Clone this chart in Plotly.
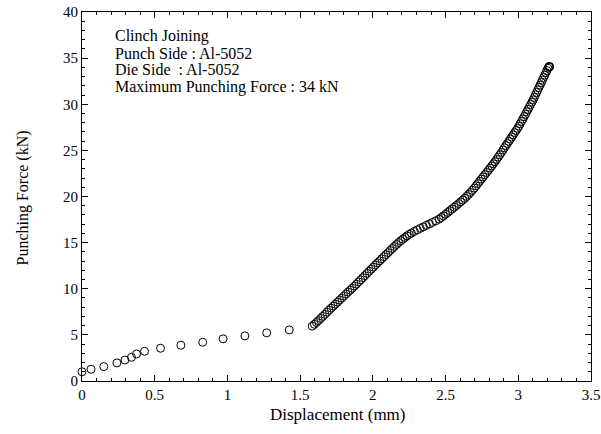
import plotly.graph_objects as go

# Displacement (mm)
displacement = [
    0.000, 0.062, 0.150, 0.240, 0.295, 0.340, 0.375, 0.430, 0.540, 0.680,
    0.830, 0.970, 1.120, 1.270, 1.425,
    1.583, 1.598, 1.612, 1.626, 1.641, 1.655, 1.670, 1.684, 1.699, 1.713,
    1.728, 1.742, 1.757, 1.771, 1.786, 1.800, 1.815, 1.829, 1.844, 1.858,
    1.873, 1.887, 1.902, 1.916, 1.931, 1.945, 1.960, 1.974, 1.989, 2.003,
    2.018, 2.032, 2.047, 2.061, 2.076, 2.090, 2.105, 2.119, 2.134, 2.148,
    2.163, 2.177, 2.192, 2.206, 2.221, 2.235, 2.250,
    2.265, 2.285, 2.305, 2.326, 2.347, 2.368, 2.389, 2.410, 2.432,
    2.455, 2.470, 2.485, 2.500, 2.515, 2.530, 2.545, 2.560, 2.575, 2.590,
    2.604, 2.618, 2.632, 2.645, 2.658, 2.671, 2.684, 2.697, 2.710, 2.722,
    2.734, 2.746, 2.758, 2.770, 2.782, 2.794, 2.806, 2.818, 2.829, 2.840,
    2.851, 2.862, 2.873, 2.884, 2.895, 2.905, 2.915, 2.925, 2.935, 2.945,
    2.955, 2.965, 2.975, 2.985, 2.995, 3.004, 3.013, 3.022, 3.031, 3.040,
    3.049, 3.058, 3.067, 3.076, 3.085, 3.094, 3.102, 3.110, 3.118, 3.126,
    3.134, 3.142, 3.150, 3.158, 3.166, 3.174, 3.182, 3.190, 3.197, 3.204,
    3.210, 3.214, 3.212, 3.216,
]

# Punching force (kN)
force = [
    1.00, 1.27, 1.56, 1.96, 2.28, 2.57, 2.93, 3.22, 3.55, 3.88,
    4.20, 4.57, 4.89, 5.22, 5.54,
    5.95, 6.15, 6.35, 6.55, 6.78, 7.00, 7.22, 7.45, 7.68, 7.90,
    8.12, 8.33, 8.55, 8.77, 8.98, 9.20, 9.42, 9.64, 9.85, 10.05,
    10.28, 10.50, 10.74, 10.96, 11.20, 11.42, 11.66, 11.90, 12.12, 12.35,
    12.58, 12.80, 13.02, 13.25, 13.48, 13.70, 13.92, 14.15, 14.36, 14.58,
    14.80, 15.01, 15.20, 15.38, 15.56, 15.73, 15.89,
    16.03, 16.21, 16.38, 16.55, 16.71, 16.87, 17.03, 17.19, 17.36,
    17.54, 17.72, 17.90, 18.08, 18.27, 18.46, 18.65, 18.84, 19.03, 19.23,
    19.42, 19.61, 19.81, 20.01, 20.22, 20.44, 20.67, 20.91, 21.16, 21.40,
    21.64, 21.88, 22.12, 22.36, 22.60, 22.84, 23.08, 23.32, 23.55, 23.78,
    24.02, 24.27, 24.52, 24.78, 25.04, 25.28, 25.52, 25.75, 25.98, 26.22,
    26.45, 26.68, 26.92, 27.15, 27.38, 27.62, 27.88, 28.14, 28.40, 28.66,
    28.92, 29.18, 29.44, 29.70, 29.97, 30.23, 30.47, 30.74, 31.01, 31.28,
    31.54, 31.81, 32.08, 32.35, 32.62, 32.89, 33.16, 33.43, 33.66, 33.90,
    34.05, 34.10, 34.08, 34.05,
]

info_lines = [
    "Clinch Joining",
    "Punch Side : Al-5052",
    "Die Side\u00a0 : Al-5052",
    "Maximum Punching Force : 34 kN",
]

FONT = "Liberation Serif, Times New Roman, serif"
W, H = 601, 434
L, T, R, B = 82, 12, 10, 53
PW, PH = W - L - R, H - T - B

def px_x(p):
    return (p - L) / PW

def px_y(p):
    return (H - B - p) / PH

fig = go.Figure()
fig.add_trace(go.Scatter(
    x=displacement, y=force, mode="markers",
    marker=dict(symbol="circle-open", size=8, color="black",
                line=dict(width=1, color="black")),
    showlegend=False, cliponaxis=False, hoverinfo="skip",
))

axis_common = dict(
    showline=True, linecolor="black", linewidth=1, mirror="allticks",
    ticks="inside", ticklen=6, tickwidth=1, tickcolor="black",
    showgrid=False, zeroline=False, automargin=False,
    ticklabeloverflow="allow",
    tickfont=dict(family=FONT, size=15, color="black"),
)

fig.update_xaxes(
    range=[0, 3.5], dtick=0.5, tick0=0,
    minor=dict(dtick=0.1, ticks="inside", ticklen=3, tickcolor="black", tickwidth=1),
    **axis_common,
)
fig.update_yaxes(
    range=[0, 40], dtick=5, tick0=0,
    minor=dict(dtick=1, ticks="inside", ticklen=3, tickcolor="black", tickwidth=1),
    **axis_common,
)

# axis titles
fig.add_annotation(
    xref="paper", yref="paper", x=px_x(337.5), y=px_y(414.5),
    xanchor="center", yanchor="middle", showarrow=False,
    text="Displacement (mm)", font=dict(family=FONT, size=17, color="black"),
)
fig.add_annotation(
    xref="paper", yref="paper", x=px_x(22), y=px_y(198.5),
    xanchor="center", yanchor="middle", showarrow=False, textangle=-90,
    text="Punching Force (kN)", font=dict(family=FONT, size=16, color="black"),
)

# info text block
line_centers = [36.5, 53.2, 69.9, 86.6]
for txt, yc in zip(info_lines, line_centers):
    fig.add_annotation(
        xref="paper", yref="paper", x=px_x(113), y=px_y(yc),
        xanchor="left", yanchor="middle", align="left", showarrow=False,
        text=txt, font=dict(family=FONT, size=16, color="black"),
    )

fig.update_layout(
    width=W, height=H,
    margin=dict(l=L, r=R, t=T, b=B, autoexpand=False),
    paper_bgcolor="white", plot_bgcolor="white",
    hovermode=False,
)

fig.write_html(
    "out.html",
    config={"displayModeBar": False},
    post_script="document.body.style.margin='0';"
                "document.documentElement.style.overflow='hidden';",
)
